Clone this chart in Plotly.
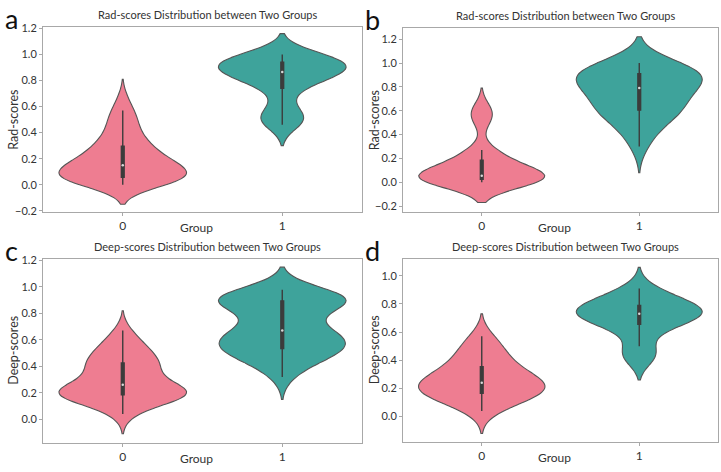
import numpy as np
import plotly.graph_objects as go

# ---------------- data ----------------
groups = [0, 1]

rad_a_g0 = [0.00, 0.01, 0.02, 0.02, 0.03, 0.03, 0.04, 0.04, 0.05, 0.05,
            0.06, 0.07, 0.08, 0.09, 0.10, 0.11, 0.12, 0.12, 0.13, 0.14,
            0.15, 0.16, 0.17, 0.18, 0.19, 0.21, 0.22, 0.24, 0.26, 0.27,
            0.29, 0.31, 0.33, 0.36, 0.39, 0.42, 0.46, 0.50, 0.54, 0.57, 0.66]
rad_a_g1 = [0.46, 0.48, 0.49, 0.50, 0.51, 0.52, 0.54, 0.58, 0.65, 0.72,
            0.76, 0.78, 0.80, 0.81, 0.82, 0.83, 0.84, 0.85, 0.86, 0.86,
            0.87, 0.88, 0.89, 0.89, 0.90, 0.91, 0.91, 0.92, 0.93, 0.94,
            0.94, 0.95, 0.95, 0.96, 0.97, 0.97, 0.98, 0.99, 0.99, 1.00]

rad_b_g0 = [0.00, 0.00, 0.00, 0.01, 0.01, 0.01, 0.01, 0.02, 0.02, 0.02,
            0.03, 0.03, 0.03, 0.04, 0.04, 0.04, 0.05, 0.05, 0.05, 0.05,
            0.06, 0.07, 0.08, 0.09, 0.10, 0.11, 0.13, 0.15, 0.17, 0.18,
            0.19, 0.21, 0.23, 0.25, 0.27, 0.50, 0.55, 0.57, 0.60, 0.62]
rad_b_g1 = [0.30, 0.36, 0.42, 0.47, 0.51, 0.54, 0.56, 0.58, 0.59, 0.60,
            0.61, 0.63, 0.65, 0.67, 0.69, 0.71, 0.73, 0.75, 0.77, 0.78,
            0.80, 0.81, 0.82, 0.84, 0.85, 0.86, 0.87, 0.88, 0.90, 0.91,
            0.91, 0.92, 0.93, 0.94, 0.95, 0.96, 0.97, 0.98, 0.99, 1.00]

deep_c_g0 = [0.04, 0.08, 0.11, 0.13, 0.15, 0.16, 0.17, 0.17, 0.18, 0.18,
             0.19, 0.19, 0.20, 0.20, 0.21, 0.21, 0.22, 0.22, 0.23, 0.25,
             0.27, 0.28, 0.30, 0.32, 0.34, 0.36, 0.38, 0.40, 0.41, 0.42,
             0.43, 0.45, 0.47, 0.49, 0.51, 0.53, 0.55, 0.58, 0.62, 0.67]
deep_c_g1 = [0.32, 0.38, 0.42, 0.45, 0.47, 0.49, 0.50, 0.51, 0.52, 0.53,
             0.54, 0.56, 0.58, 0.59, 0.60, 0.61, 0.62, 0.63, 0.65, 0.66,
             0.68, 0.70, 0.73, 0.77, 0.81, 0.84, 0.86, 0.87, 0.88, 0.89,
             0.90, 0.90, 0.91, 0.92, 0.92, 0.93, 0.94, 0.95, 0.96, 0.98]

deep_d_g0 = [0.04, 0.07, 0.09, 0.11, 0.12, 0.13, 0.14, 0.15, 0.15, 0.16,
             0.17, 0.18, 0.19, 0.20, 0.20, 0.21, 0.22, 0.22, 0.23, 0.24,
             0.24, 0.25, 0.26, 0.27, 0.28, 0.29, 0.30, 0.31, 0.33, 0.35,
             0.36, 0.38, 0.40, 0.42, 0.44, 0.46, 0.49, 0.52, 0.55, 0.57]
deep_d_g1 = [0.41, 0.42, 0.43, 0.44, 0.45, 0.50, 0.56, 0.60, 0.63, 0.65,
             0.66, 0.67, 0.68, 0.69, 0.70, 0.70, 0.71, 0.71, 0.72, 0.73,
             0.73, 0.74, 0.74, 0.75, 0.75, 0.76, 0.76, 0.77, 0.78, 0.79,
             0.79, 0.80, 0.81, 0.82, 0.83, 0.84, 0.86, 0.88, 0.90, 0.91]

panel_letters = ["a", "b", "c", "d"]
panel_titles = ["Rad-scores Distribution between Two Groups",
                "Rad-scores Distribution between Two Groups",
                "Deep-scores Distribution between Two Groups",
                "Deep-scores Distribution between Two Groups"]
y_titles = ["Rad-scores", "Rad-scores", "Deep-scores", "Deep-scores"]
x_title = "Group"
panel_data = [(rad_a_g0, rad_a_g1), (rad_b_g0, rad_b_g1),
              (deep_c_g0, deep_c_g1), (deep_d_g0, deep_d_g1)]
y_ticks = [[-0.2, 0.0, 0.2, 0.4, 0.6, 0.8, 1.0, 1.2],
           [-0.2, 0.0, 0.2, 0.4, 0.6, 0.8, 1.0, 1.2],
           [0.0, 0.2, 0.4, 0.6, 0.8, 1.0, 1.2],
           [0.0, 0.2, 0.4, 0.6, 0.8, 1.0]]

# ---------------- styles / layout ----------------
W, H = 721, 472
colors = ["#ee7d91", "#3ea39b"]
bandwidths = [(0.075, 0.08), (0.085, 0.11), (0.075, 0.085), (0.08, 0.075)]
y_ranges = [(-0.21, 1.207), (-0.25, 1.29), (-0.177, 1.212), (-0.178, 1.12)]
# pixel boxes of the axes: (left, top, right, bottom)
boxes = [(43, 22, 362, 211), (403, 23, 718, 211),
         (43, 259, 362, 447), (403, 259, 718, 446)]
FONT = "Lato, 'Open Sans', sans-serif"

fig = go.Figure()
layout = dict(width=W, height=H, margin=dict(l=0, r=0, t=0, b=0),
              paper_bgcolor="white", plot_bgcolor="white",
              showlegend=False, violinmode="overlay",
              font=dict(family=FONT, color="#333333"))
annotations = []

for i in range(4):
    l, t, r, b = boxes[i]
    xd = [l / W, r / W]
    yd = [1 - b / H, 1 - t / H]
    suffix = "" if i == 0 else str(i + 1)
    xa, ya = "x" + suffix, "y" + suffix
    layout["xaxis" + suffix] = dict(
        domain=xd, anchor=ya, range=[-0.5, 1.5], tickvals=groups,
        ticktext=[str(g) for g in groups], showgrid=False, zeroline=False,
        showline=True, mirror=True, linecolor="#a8a8a8", linewidth=1,
        ticks="outside", ticklen=3, tickcolor="#a8a8a8",
        tickfont=dict(size=12, color="#333333"))
    layout["yaxis" + suffix] = dict(
        domain=yd, anchor=xa, range=list(y_ranges[i]), tickvals=y_ticks[i],
        tickformat=".1f", showgrid=False, zeroline=False,
        showline=True, mirror=True, linecolor="#a8a8a8", linewidth=1,
        ticks="outside", ticklen=3, tickcolor="#a8a8a8",
        tickfont=dict(size=11, color="#333333"))

    for g, vals in zip(groups, panel_data[i]):
        fig.add_trace(go.Violin(
            x0=g, y=vals, xaxis=xa, yaxis=ya, width=0.8,
            bandwidth=bandwidths[i][g], spanmode="soft",
            fillcolor=colors[g], opacity=1,
            line=dict(color="#555555", width=1.1),
            points="outliers", marker=dict(opacity=0, size=1),
            box=dict(visible=True, width=0.022, fillcolor="#3c3c3c",
                     line=dict(color="#3c3c3c", width=1.4)),
            meanline=dict(visible=False), hoverinfo="skip"))
        fig.add_trace(go.Scatter(
            x=[g], y=[float(np.median(vals))], xaxis=xa, yaxis=ya,
            mode="markers", marker=dict(color="#d8d8d8", size=2.5),
            hoverinfo="skip"))

    cx = (l + r) / 2
    annotations.append(dict(text=panel_titles[i], xref="paper", yref="paper",
                            x=(cx + 5) / W, y=1 - (t - 13) / H,
                            xanchor="center", yanchor="middle",
                            showarrow=False,
                            font=dict(size=11, color="#333333")))
    annotations.append(dict(text=panel_letters[i], xref="paper", yref="paper",
                            x=(l - 40) / W, y=1 - (t - 9) / H, xanchor="left",
                            yanchor="middle", showarrow=False,
                            font=dict(size=27, color="#111111")))
    annotations.append(dict(text=y_titles[i], xref="paper", yref="paper",
                            x=(l - 29) / W, y=1 - ((t + b) / 2) / H,
                            xanchor="center", yanchor="middle", textangle=-90,
                            showarrow=False,
                            font=dict(size=12.5, color="#333333")))
    annotations.append(dict(text=x_title, xref="paper", yref="paper",
                            x=(cx - 6) / W, y=1 - (b + 16) / H,
                            xanchor="center", yanchor="middle",
                            showarrow=False,
                            font=dict(size=12, color="#333333")))

layout["annotations"] = annotations
fig.update_layout(**layout)
fig.write_html("out.html")
